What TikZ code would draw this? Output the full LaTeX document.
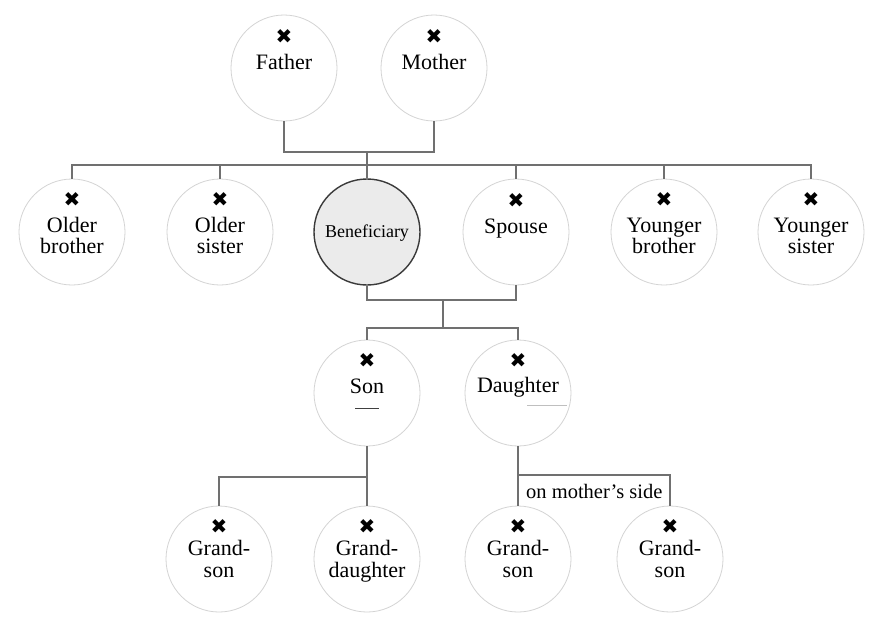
\documentclass[tikz,border=0pt]{standalone}
\usepackage{fontspec}
\setmainfont{Liberation Serif}
\newfontfamily\xmarkfont{DejaVu Sans}
\usetikzlibrary{calc}
\definecolor{conncol}{HTML}{707070}
\definecolor{circcol}{HTML}{D4D4D4}
\definecolor{benfill}{HTML}{EBEBEB}
\definecolor{bendraw}{HTML}{3A3A3A}
\tikzset{
  person/.style={circle, draw=circcol, line width=0.8pt, minimum size=106pt, inner sep=0pt},
  benef/.style={circle, draw=bendraw, fill=benfill, line width=1.4pt, minimum size=106pt, inner sep=0pt},
  conn/.style={draw=conncol, line width=1.2pt},
  lbl/.style={anchor=base, inner sep=0pt, font=\fontsize{22}{23}\selectfont},
  benlbl/.style={anchor=base, inner sep=0pt, font=\fontsize{18}{20}\selectfont},
  sidelbl/.style={anchor=base west, inner sep=0pt, font=\fontsize{20.5}{22}\selectfont},
  xmark/.style={inner sep=0pt, font=\xmarkfont\fontsize{20}{20}\selectfont}
}
\begin{document}
\begin{tikzpicture}[x=1pt,y=-1pt]
\useasboundingbox[fill=white] (0,0) rectangle (880,625);

% ---- circles ----
\node[person] (fa) at (284,68) {};
\node[person] (mo) at (434,68) {};
\node[person] (ob) at (72,232) {};
\node[person] (os) at (220,232) {};
\node[benef]  (ben) at (367,232) {};
\node[person] (sp) at (516,232) {};
\node[person] (yb) at (664,232) {};
\node[person] (ys) at (811,232) {};
\node[person] (son) at (367,393) {};
\node[person] (dau) at (518,393) {};
\node[person] (g1) at (219,559) {};
\node[person] (gd) at (367,559) {};
\node[person] (g2) at (518,559) {};
\node[person] (g3) at (670,559) {};

% ---- texts ----
\node[xmark] (xfa) at (284,37) {✖};
\node[lbl] (tfa) at (284,69) {Father};
\node[xmark] (xmo) at (434,37) {✖};
\node[lbl] (tmo) at (434,69) {Mother};

\node[xmark] (xob) at (72,200) {✖};
\node[lbl] (tob1) at (72,232) {Older};
\node[lbl] (tob2) at (72,253) {brother};
\node[xmark] (xos) at (220,200) {✖};
\node[lbl] (tos1) at (220,232) {Older};
\node[lbl] (tos2) at (220,253) {sister};
\node[benlbl] (tben) at (367,237) {Beneficiary};
\node[xmark] (xsp) at (516,201) {✖};
\node[lbl] (tsp) at (516,233) {Spouse};
\node[xmark] (xyb) at (664,200) {✖};
\node[lbl] (tyb1) at (664,232) {Younger};
\node[lbl] (tyb2) at (664,253) {brother};
\node[xmark] (xys) at (811,200) {✖};
\node[lbl] (tys1) at (811,232) {Younger};
\node[lbl] (tys2) at (811,253) {sister};

\node[xmark] (xson) at (367,361) {✖};
\node[lbl] (tson) at (367,393) {Son};
\node[xmark] (xdau) at (518,361) {✖};
\node[lbl] (tdau) at (518,392) {Daughter};

\node[xmark] (xg1) at (219,527) {✖};
\node[lbl] (tg11) at (219,555) {Grand-};
\node[lbl] (tg12) at (219,577) {son};
\node[xmark] (xgd) at (367,527) {✖};
\node[lbl] (tgd1) at (367,555) {Grand-};
\node[lbl] (tgd2) at (367,577) {daughter};
\node[xmark] (xg2) at (518,527) {✖};
\node[lbl] (tg21) at (518,555) {Grand-};
\node[lbl] (tg22) at (518,577) {son};
\node[xmark] (xg3) at (670,527) {✖};
\node[lbl] (tg31) at (670,555) {Grand-};
\node[lbl] (tg32) at (670,577) {son};

\node[sidelbl] (side) at (526,498) {on mother’s side};

% ---- small marks under Son / Daughter ----
\draw[draw=black!75, line width=1pt] ($(son)+(-12,15)$) -- ($(son)+(12,15)$);
\draw[draw=black!25, line width=0.8pt] ($(dau)+(9,12)$) -- ($(dau)+(49,12)$);

% ---- connectors ----
\coordinate (pm) at (367,152);
\coordinate (sib) at (367,165);
\draw[conn] (fa.south) |- (pm) -| (mo.south);
\draw[conn] (pm) -- (ben.north);
\draw[conn] (ob.north) |- (sib) -| (ys.north);
\draw[conn] (os.north) -- (os.north |- sib);
\draw[conn] (sp.north) -- (sp.north |- sib);
\draw[conn] (yb.north) -- (yb.north |- sib);

\coordinate (cm) at (443,300);
\coordinate (kids) at (443,328);
\draw[conn] (ben.south) |- (cm) -| (sp.south);
\draw[conn] (cm) -- (kids);
\draw[conn] (son.north) |- (kids) -| (dau.north);

\coordinate (sk) at (367,477);
\draw[conn] (son.south) -- (gd.north);
\draw[conn] (g1.north) |- (sk);

\coordinate (dk) at (518,475);
\draw[conn] (dau.south) -- (g2.north);
\draw[conn] (dk) -| (g3.north);
\end{tikzpicture}
\end{document}
